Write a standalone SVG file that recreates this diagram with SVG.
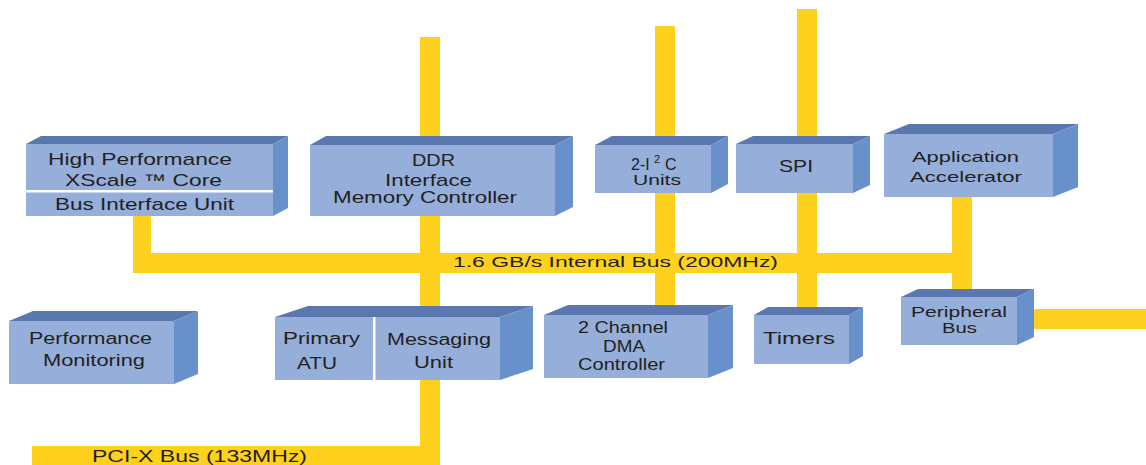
<svg xmlns="http://www.w3.org/2000/svg" width="1146" height="465" viewBox="0 0 1146 465">
<style>
.bus{fill:#FED11E}
.front{fill:#95AEDA}
.top{fill:#5A77AF}
.side{fill:#6890CB}
.sep{fill:#FFFFFF}
text{font-family:"Liberation Sans",Arial,Helvetica,sans-serif;fill:#231F20}
.t17{font-size:17px}
.t16{font-size:16px}
.t15{font-size:15px}
</style>
<rect width="1146" height="465" fill="#FFFFFF"/>
<g id="connectors">
  <rect class="bus" x="133" y="253" width="839" height="20"/>
  <rect class="bus" x="133" y="214" width="18" height="45"/>
  <rect class="bus" x="420" y="37" width="20" height="428"/>
  <rect class="bus" x="32" y="446" width="408" height="19"/>
  <rect class="bus" x="655" y="26" width="20" height="281"/>
  <rect class="bus" x="797" y="9" width="20" height="300"/>
  <rect class="bus" x="952" y="195" width="20" height="97"/>
  <rect class="bus" x="1010" y="309" width="136" height="20"/>
  <text x="453" y="267" class="t15" textLength="325" lengthAdjust="spacingAndGlyphs">1.6 GB/s Internal Bus (200MHz)</text>
  <text x="92" y="461.5" class="t16" textLength="215" lengthAdjust="spacingAndGlyphs">PCI-X Bus (133MHz)</text>
</g>
<g id="core">
  <polygon class="top" points="26,144 41,136 288,136 273,144"/>
  <polygon class="side" points="273,144 288,136 288,208 273,216"/>
  <rect class="front" x="26" y="144" width="247" height="72"/>
  <rect class="sep" x="26" y="190" width="247" height="2.5"/>
  <text x="48" y="165" class="t17" textLength="184" lengthAdjust="spacingAndGlyphs">High Performance</text>
  <text x="65" y="186" class="t17" textLength="157" lengthAdjust="spacingAndGlyphs">XScale ™ Core</text>
  <text x="55" y="209.5" class="t17" textLength="179" lengthAdjust="spacingAndGlyphs">Bus Interface Unit</text>
</g>
<g id="ddr">
  <polygon class="top" points="310,145 326,136 573,136 555,145"/>
  <polygon class="side" points="555,145 573,136 573,207 555,216"/>
  <rect class="front" x="310" y="145" width="245" height="71"/>
  <text x="412" y="166" class="t17" textLength="43" lengthAdjust="spacingAndGlyphs">DDR</text>
  <text x="385" y="186" class="t17" textLength="87" lengthAdjust="spacingAndGlyphs">Interface</text>
  <text x="333" y="203" class="t17" textLength="184" lengthAdjust="spacingAndGlyphs">Memory Controller</text>
</g>
<g id="i2c">
  <polygon class="top" points="595,145 612,136 728,136 711,145"/>
  <polygon class="side" points="711,145 728,136 728,184 711,193"/>
  <rect class="front" x="595" y="145" width="116" height="48"/>
  <text font-size="16"><tspan x="631" y="170">2-I</tspan><tspan x="654" y="163" font-size="11">2</tspan><tspan x="665" y="170">C</tspan></text>
  <text x="633" y="185" class="t15" textLength="48" lengthAdjust="spacingAndGlyphs">Units</text>
</g>
<g id="spi">
  <polygon class="top" points="736,144 753,136 870,136 853,144"/>
  <polygon class="side" points="853,144 870,136 870,185 853,193"/>
  <rect class="front" x="736" y="144" width="117" height="49"/>
  <text x="779" y="172" class="t17" textLength="34" lengthAdjust="spacingAndGlyphs">SPI</text>
</g>
<g id="app">
  <polygon class="top" points="884,134 909,124 1078,124 1053,134"/>
  <polygon class="side" points="1053,134 1078,124 1078,187 1053,197"/>
  <rect class="front" x="884" y="134" width="169" height="63"/>
  <text x="912" y="162" class="t15" textLength="107" lengthAdjust="spacingAndGlyphs">Application</text>
  <text x="910" y="182" class="t15" textLength="112" lengthAdjust="spacingAndGlyphs">Accelerator</text>
</g>
<g id="perf">
  <polygon class="top" points="9,321 33,311 198,311 174,321"/>
  <polygon class="side" points="174,321 198,311 198,374 174,384"/>
  <rect class="front" x="9" y="321" width="165" height="63"/>
  <text x="29" y="343.5" class="t16" textLength="123" lengthAdjust="spacingAndGlyphs">Performance</text>
  <text x="43" y="366" class="t16" textLength="102" lengthAdjust="spacingAndGlyphs">Monitoring</text>
</g>
<g id="atu">
  <polygon class="top" points="275,317 308,306 533,306 500,317"/>
  <polygon class="side" points="500,317 533,306 533,369 500,380"/>
  <rect class="front" x="275" y="317" width="225" height="63"/>
  <rect class="sep" x="373" y="317" width="2.5" height="63"/>
  <text x="283" y="343.5" class="t16" textLength="77" lengthAdjust="spacingAndGlyphs">Primary</text>
  <text x="297" y="368.5" class="t16" textLength="40" lengthAdjust="spacingAndGlyphs">ATU</text>
  <text x="387" y="344.5" class="t16" textLength="104" lengthAdjust="spacingAndGlyphs">Messaging</text>
  <text x="414" y="368" class="t16" textLength="39" lengthAdjust="spacingAndGlyphs">Unit</text>
</g>
<g id="dma">
  <polygon class="top" points="544,315 568,305 733,305 708,315"/>
  <polygon class="side" points="708,315 733,305 733,368 708,378"/>
  <rect class="front" x="544" y="315" width="164" height="63"/>
  <text x="578" y="332.5" class="t16" textLength="90" lengthAdjust="spacingAndGlyphs">2 Channel</text>
  <text x="603" y="352" class="t16" textLength="42" lengthAdjust="spacingAndGlyphs">DMA</text>
  <text x="578" y="370" class="t16" textLength="87" lengthAdjust="spacingAndGlyphs">Controller</text>
</g>
<g id="timers">
  <polygon class="top" points="754,315 768,307 863,307 849,315"/>
  <polygon class="side" points="849,315 863,307 863,356 849,364"/>
  <rect class="front" x="754" y="315" width="95" height="49"/>
  <text x="763" y="343.5" class="t16" textLength="72" lengthAdjust="spacingAndGlyphs">Timers</text>
</g>
<g id="peripheral">
  <polygon class="top" points="901,297 918,289 1034,289 1017,297"/>
  <polygon class="side" points="1017,297 1034,289 1034,337 1017,345"/>
  <rect class="front" x="901" y="297" width="116" height="48"/>
  <text x="911" y="317" class="t15" textLength="96" lengthAdjust="spacingAndGlyphs">Peripheral</text>
  <text x="942" y="333" class="t15" textLength="35" lengthAdjust="spacingAndGlyphs">Bus</text>
</g>
</svg>
